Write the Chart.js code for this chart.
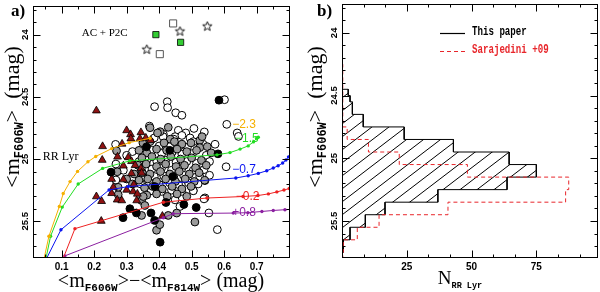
<!DOCTYPE html>
<html>
<head>
<meta charset="utf-8">
<script src="https://cdn.jsdelivr.net/npm/chart.js@4.4.1/dist/chart.umd.min.js"></script>
<style>
  html, body { margin: 0; padding: 0; background: #fff; }
  #wrap { position: relative; width: 600px; height: 292px; }
  canvas { position: absolute; top: 0; }
  #cmd { left: 0; }
  #hist { left: 300px; }
</style>
</head>
<body>
<div id="wrap">
  <canvas id="cmd" width="300" height="292"></canvas>
  <canvas id="hist" width="300" height="292"></canvas>
</div>
<script>
// ---------- panel a) : [colour, mag] ----------
const openCircles = [
  [0.386,24.579],[0.425,24.539],[0.426,24.587],[0.451,24.628],[0.470,24.648],
  [0.370,24.735],[0.459,24.769],[0.507,24.754],[0.539,24.782],[0.601,24.523],
  [0.608,24.721],[0.640,24.790],[0.644,24.818],[0.572,24.881],[0.413,24.801],
  [0.449,24.820],[0.266,24.882],[0.267,25.040],[0.267,25.168],[0.606,25.062],
  [0.541,25.312],[0.553,25.433],[0.579,25.567],[0.449,25.328],[0.538,25.320],
  [0.464,25.381],[0.505,25.253],[0.318,24.940],[0.482,24.790],
  [0.541,25.173],[0.525,25.094],[0.300,24.970],[0.290,25.090],
  [0.385,24.83],[0.412,24.82],[0.445,24.84],[0.470,24.81],[0.495,24.83],[0.505,24.86],
  [0.360,24.89],[0.400,24.895],[0.432,24.90],[0.462,24.895],[0.487,24.905],[0.535,24.88],
  [0.350,24.95],[0.377,24.93],[0.408,24.955],[0.440,24.945],[0.470,24.96],[0.503,24.955],[0.545,24.97],
  [0.338,25.02],[0.362,25.01],[0.393,25.02],[0.420,25.01],[0.452,25.025],[0.485,25.02],[0.515,25.035],[0.555,25.02],
  [0.345,25.08],[0.378,25.08],[0.407,25.075],[0.438,25.09],[0.470,25.075],[0.505,25.09],[0.538,25.085],
  [0.352,25.14],[0.385,25.14],[0.414,25.135],[0.445,25.145],[0.475,25.13],[0.525,25.14],[0.555,25.13],
  [0.343,25.20],[0.370,25.19],[0.400,25.205],[0.432,25.19],[0.460,25.205],[0.490,25.19],[0.520,25.20],
  [0.375,25.255],[0.408,25.26],[0.438,25.25],[0.470,25.26],[0.505,25.255]
];
const grayCircles = [
  [0.403,24.78],[0.428,24.745],[0.434,24.84],[0.395,24.79],[0.525,24.85],[0.532,24.82],
  [0.372,24.748],[0.525,24.908],
  [0.350,24.87],[0.372,24.86],[0.415,24.87],[0.447,24.86],[0.470,24.88],[0.498,24.87],[0.548,24.90],
  [0.338,24.93],[0.362,24.95],[0.392,24.92],[0.423,24.93],[0.455,24.92],[0.485,24.94],[0.515,24.93],[0.560,24.95],
  [0.347,24.99],[0.378,24.98],[0.405,25.00],[0.436,24.98],[0.466,25.00],[0.500,24.99],[0.530,25.01],
  [0.335,25.05],[0.360,25.04],[0.392,25.06],[0.420,25.04],[0.452,25.06],[0.478,25.05],[0.512,25.07],[0.545,25.05],
  [0.348,25.11],[0.372,25.12],[0.404,25.10],[0.433,25.12],[0.462,25.10],[0.493,25.12],[0.523,25.11],
  [0.338,25.17],[0.365,25.16],[0.392,25.18],[0.420,25.16],[0.450,25.18],[0.480,25.16],[0.508,25.18],[0.540,25.17],
  [0.355,25.23],[0.380,25.22],[0.410,25.24],[0.440,25.22],[0.470,25.24],[0.498,25.22],
  [0.362,25.29],[0.392,25.28],[0.425,25.30],[0.455,25.28],[0.485,25.30],
  [0.271,25.102],[0.269,24.934],[0.274,25.285],[0.274,25.227],[0.318,25.20],[0.300,25.16],[0.323,25.12],
  [0.346,25.333],[0.356,25.373],[0.346,25.453],[0.392,25.572],[0.402,25.527],[0.428,25.453],
  [0.454,25.434],[0.510,25.506],[0.351,25.301]
];
const blackCircles = [
  [0.584,24.527],[0.581,24.958],[0.361,24.902],[0.252,25.105],[0.433,24.930],[0.421,25.349],
  [0.476,25.365],[0.514,25.389],[0.310,25.399],[0.330,25.433],[0.375,25.433],[0.289,25.471],
  [0.386,25.493],[0.403,25.668],[0.442,25.141],[0.387,25.221]
];
const rrTriangles = [
  [0.207,24.611],[0.300,24.770],[0.312,24.802],[0.344,24.786],[0.313,24.836],[0.341,24.836],
  [0.359,24.830],[0.226,24.898],[0.286,24.878],[0.272,24.982],[0.225,25.008],[0.305,24.987],
  [0.315,25.018],[0.326,25.050],[0.344,25.075],[0.290,25.054],[0.315,25.115],[0.346,25.112],
  [0.254,25.161],[0.290,25.165],[0.322,25.205],[0.259,25.227],[0.300,25.248],[0.254,25.275],
  [0.320,25.261],[0.333,25.280],[0.207,25.301],[0.223,25.339],[0.271,25.327],[0.285,25.333],
  [0.331,25.333],[0.222,25.498],[0.410,25.458],[0.374,24.849]
];
const openSquares = [[0.443,23.910],[0.402,24.157]];
const greenSquares = [[0.390,24.000],[0.466,24.062]];
const acStars = [[0.362,24.117],[0.464,23.971],[0.548,23.931]];

// ZAHB tracks
const trackOrange = [
  [0.041,25.860],[0.061,25.620],[0.093,25.381],[0.105,25.277],[0.126,25.181],[0.149,25.099],
  [0.181,25.022],[0.205,24.979],[0.254,24.916],[0.308,24.868],[0.372,24.833]
];
const trackGreen = [
  [0.047,25.860],[0.066,25.620],[0.102,25.386],[0.151,25.200],[0.226,25.075],[0.310,25.014],
  [0.578,24.966],[0.618,24.948],[0.649,24.920],[0.674,24.894],
  [0.690,24.862],[0.700,24.833],[0.705,24.825]
];
const trackBlue = [
  [0.042,25.860],[0.098,25.568],[0.246,25.248],[0.305,25.221],
  [0.636,25.152],[0.674,25.134],[0.705,25.115],[0.731,25.094],[0.751,25.072],[0.766,25.054],
  [0.780,25.032],[0.790,25.008],[0.798,24.982],[0.809,24.934]
];
const trackRed = [
  [0.093,25.876],[0.141,25.559],[0.413,25.347],[0.547,25.313],[0.658,25.301],[0.704,25.293],
  [0.736,25.280],[0.762,25.264],[0.784,25.249],[0.800,25.237],[0.812,25.229]
];
const trackPurple = [
  [0.110,25.778],[0.413,25.471],[0.443,25.439],[0.628,25.434],[0.673,25.431],[0.716,25.421],
  [0.751,25.413],[0.787,25.407],[0.812,25.403]
];
const trackLabels = ['\u22122.3', '\u22121.5', '\u22120.7', '\u22120.2', '+0.8'];
const trackLabelPos = [[0.661,24.727],[0.670,24.838],[0.661,25.088],[0.672,25.301],[0.661,25.431]];
const trackColors = ['#f5b000', '#22dd22', '#0a14f0', '#ee2222', '#8b1fa0'];

// ---------- panel b) : histograms ----------
const blackEdges = [24.45,24.5,24.55,24.65,24.75,24.85,24.95,25.05,25.15,25.25,25.35,25.45,25.55,25.65,25.75];
const blackCounts = [2.4,3.1,4,8.2,24,43,64.5,75,63.7,37,16.6,9,3.1,0.5];
const redEdges = [24.25,24.35,24.45,24.55,24.65,24.75,24.85,24.95,25.05,25.15,25.25,25.35,25.45,25.55,25.65,25.75,25.85];
const redCounts = [0.3,0.3,0.3,0.3,0.3,2,10.2,22.1,48.4,87.5,86.3,40.9,14.3,5.9,0.5,0.3];

// ticks
const magTicks = [24, 24.5, 25, 25.5];
const colourTicks = [0.1, 0.2, 0.3, 0.4, 0.5, 0.6, 0.7];
const countTicks = [25, 50, 75];
const magMinor = [];
for (let k = 238; k <= 257; k++) magMinor.push(k / 10);
const colourMinor = [];
for (let k = 1; k <= 16; k++) colourMinor.push(k * 0.05);
const countMinor = [];
for (let k = 1; k <= 11; k++) countMinor.push(k * 25 / 3);

const SERIF = "'Liberation Serif', 'DejaVu Serif', serif";
const MONO = "'Liberation Mono', 'DejaVu Sans Mono', monospace";
const SANS = "'Liberation Sans', Arial, sans-serif";

function richText(ctx, parts, x, y, rot) {
  ctx.save();
  ctx.translate(x, y);
  if (rot) ctx.rotate(rot);
  let w = 0;
  for (const p of parts) { ctx.font = p.font; w += ctx.measureText(p.text).width; }
  let cx = -w / 2;
  ctx.textAlign = 'left';
  ctx.textBaseline = 'alphabetic';
  ctx.fillStyle = '#000';
  for (const p of parts) {
    ctx.font = p.font;
    ctx.fillText(p.text, cx, p.dy || 0);
    cx += ctx.measureText(p.text).width;
  }
  ctx.restore();
}

function magTitle(sub) {
  return [
    {text: '<m', font: '22px ' + SERIF},
    {text: sub, font: 'bold 12px ' + MONO, dy: 4},
    {text: '>  (mag)', font: '22px ' + SERIF}
  ];
}

// axes frame with inward ticks on all four sides
function makeFrame(cfg) {
  return {
    id: 'frame',
    afterDraw(chart) {
      const {ctx, chartArea: a, scales: {x, y}} = chart;
      ctx.save();
      ctx.strokeStyle = '#000';
      ctx.lineWidth = 1;
      ctx.strokeRect(a.left + 0.5, a.top + 0.5, a.right - a.left - 1, a.bottom - a.top - 1);
      ctx.beginPath();
      const xt = (vals, len) => vals.forEach(v => {
        if (v <= x.min || v >= x.max) return;
        const p = Math.round(x.getPixelForValue(v)) + 0.5;
        ctx.moveTo(p, a.bottom); ctx.lineTo(p, a.bottom - len);
        ctx.moveTo(p, a.top); ctx.lineTo(p, a.top + len);
      });
      const yt = (vals, len) => vals.forEach(v => {
        if (v <= y.min || v >= y.max) return;
        const p = Math.round(y.getPixelForValue(v)) + 0.5;
        ctx.moveTo(a.left, p); ctx.lineTo(a.left + len, p);
        ctx.moveTo(a.right, p); ctx.lineTo(a.right - len, p);
      });
      xt(cfg.xMinor, 3.5); xt(cfg.xMajor, 7.5);
      yt(magMinor, 3.5); yt(magTicks, 7.5);
      ctx.stroke();

      ctx.fillStyle = '#000';
      ctx.font = 'bold 10px ' + SANS;
      ctx.textAlign = 'center';
      ctx.textBaseline = 'middle';
      cfg.xMajor.forEach(v => ctx.fillText(cfg.xFmt(v), x.getPixelForValue(v), 267));
      ctx.font = 'bold 9.5px ' + SANS;
      magTicks.forEach(v => {
        ctx.save();
        ctx.translate(a.left - 8, y.getPixelForValue(v));
        ctx.rotate(-Math.PI / 2);
        ctx.fillText(String(v), 0, 0);
        ctx.restore();
      });

      ctx.font = 'bold 17px ' + SERIF;
      ctx.textAlign = 'left';
      ctx.textBaseline = 'alphabetic';
      ctx.fillText(cfg.panel, cfg.panelX, 16);

      richText(ctx, cfg.xTitle, cfg.xTitlePos[0], cfg.xTitlePos[1]);
      richText(ctx, magTitle('F606W'), cfg.yTitleX, 117, -Math.PI / 2);
      if (cfg.extra) cfg.extra(chart);
      ctx.restore();
    }
  };
}

function starImage() {
  const c = document.createElement('canvas');
  c.width = 13; c.height = 13;
  const g = c.getContext('2d');
  g.beginPath();
  for (let i = 0; i < 10; i++) {
    const r = i % 2 ? 2.1 : 4.9;
    const ang = -Math.PI / 2 + i * Math.PI / 5;
    const px = 6.5 + r * Math.cos(ang), py = 6.9 + r * Math.sin(ang);
    if (i) g.lineTo(px, py); else g.moveTo(px, py);
  }
  g.closePath();
  g.fillStyle = '#fff'; g.fill();
  g.lineWidth = 0.9; g.strokeStyle = '#000'; g.stroke();
  return c;
}

function track(data, color) {
  return {
    data, showLine: true, borderColor: color, borderWidth: 1,
    pointRadius: 1.7, pointBackgroundColor: color, pointBorderWidth: 0,
    clip: 0, order: 0
  };
}

function circles(data, fill, order) {
  return {
    data, pointStyle: 'circle', pointRadius: 3.9, backgroundColor: fill,
    borderColor: '#000', borderWidth: 1, order
  };
}

// ---------- panel a) ----------
new Chart(document.getElementById('cmd'), {
  type: 'scatter',
  data: {
    datasets: [
      track(trackOrange, trackColors[0]),
      track(trackGreen, trackColors[1]),
      track(trackBlue, trackColors[2]),
      track(trackRed, trackColors[3]),
      track(trackPurple, trackColors[4]),
      circles(blackCircles, '#000', 1),
      {data: rrTriangles, pointStyle: 'triangle', pointRadius: 4.5, backgroundColor: '#8e1212',
       borderColor: '#000', borderWidth: 0.8, order: 2},
      circles(grayCircles, '#9b9b9b', 3),
      circles(openCircles, '#fff', 4),
      {data: openSquares, pointStyle: 'rect', pointRadius: 5, backgroundColor: '#fff',
       borderColor: '#555', borderWidth: 1, order: 1},
      {data: greenSquares, pointStyle: 'rect', pointRadius: 4.4, backgroundColor: '#33cc33',
       borderColor: '#000', borderWidth: 0.8, order: 1},
      {data: acStars, pointStyle: starImage(), order: 1}
    ]
  },
  options: {
    responsive: false,
    animation: false,
    devicePixelRatio: 1,
    layout: {padding: {left: 33, right: 10, top: 4, bottom: 34}},
    scales: {
      x: {type: 'linear', min: 0.012, max: 0.8025, display: false},
      y: {type: 'linear', min: 23.77, max: 25.795, reverse: true, display: false}
    },
    plugins: {legend: {display: false}, tooltip: {enabled: false}}
  },
  plugins: [makeFrame({
    xMajor: colourTicks, xMinor: colourMinor, xFmt: v => v.toFixed(1),
    panel: 'a)', panelX: 11,
    xTitle: [
      {text: '<m', font: '20px ' + SERIF},
      {text: 'F606W', font: 'bold 11px ' + MONO, dy: 4},
      {text: '>\u2212<m', font: '20px ' + SERIF},
      {text: 'F814W', font: 'bold 11px ' + MONO, dy: 4},
      {text: '> (mag)', font: '20px ' + SERIF}
    ],
    xTitlePos: [161, 286.5],
    yTitleX: 18.5,
    extra(chart) {
      const {ctx, scales: {x, y}} = chart;
      ctx.font = '12px ' + SANS;
      ctx.textAlign = 'center';
      ctx.textBaseline = 'middle';
      trackLabels.forEach((t, i) => {
        ctx.fillStyle = trackColors[i];
        ctx.fillText(t, x.getPixelForValue(trackLabelPos[i][0]), y.getPixelForValue(trackLabelPos[i][1]));
      });
      ctx.fillStyle = '#000';
      ctx.textAlign = 'left';
      ctx.font = '12px ' + SERIF;
      ctx.fillText('RR Lyr', x.getPixelForValue(0.042), y.getPixelForValue(24.982));
      ctx.font = '11px ' + SERIF;
      ctx.fillText('AC + P2C', x.getPixelForValue(0.162), y.getPixelForValue(23.984));
    }
  })]
});

// ---------- panel b) ----------
function steps(edges, counts) {
  const pts = [{x: 0, y: edges[0]}];
  counts.forEach((n, i) => {
    pts.push({x: n, y: edges[i]});
    pts.push({x: n, y: edges[i + 1]});
  });
  pts.push({x: 0, y: edges[edges.length - 1]});
  return pts;
}

const histCanvas = document.getElementById('hist');
const tile = document.createElement('canvas');
tile.width = 17; tile.height = 13;
const tg = tile.getContext('2d');
tg.strokeStyle = '#000';
tg.lineWidth = 1;
tg.beginPath();
[-13, 0, 13].forEach(off => { tg.moveTo(-17, 26 + off); tg.lineTo(34, -13 + off); });
tg.stroke();
const hatch = histCanvas.getContext('2d').createPattern(tile, 'repeat');

new Chart(histCanvas, {
  type: 'line',
  data: {
    datasets: [
      {data: steps(redEdges, redCounts), borderColor: '#e8262b', borderWidth: 1, borderDash: [4, 3],
       pointRadius: 0, fill: false, tension: 0, order: 0},
      {data: steps(blackEdges, blackCounts), borderColor: '#000', borderWidth: 1,
       pointRadius: 0, fill: 'shape', backgroundColor: hatch, tension: 0, order: 1}
    ]
  },
  options: {
    responsive: false,
    animation: false,
    devicePixelRatio: 1,
    layout: {padding: {left: 42, right: 2, top: 4, bottom: 34}},
    scales: {
      x: {type: 'linear', min: 0, max: 98.8, display: false},
      y: {type: 'linear', min: 23.77, max: 25.795, reverse: true, display: false}
    },
    plugins: {legend: {display: false}, tooltip: {enabled: false}}
  },
  plugins: [makeFrame({
    xMajor: countTicks, xMinor: countMinor, xFmt: v => String(v),
    panel: 'b)', panelX: 17,
    xTitle: [
      {text: 'N', font: '19px ' + SERIF},
      {text: 'RR Lyr', font: 'bold 8.5px ' + MONO, dy: 4}
    ],
    xTitlePos: [160, 283.5],
    yTitleX: 21.5,
    extra(chart) {
      const {ctx} = chart;
      ctx.lineWidth = 1.2;
      ctx.strokeStyle = '#000';
      ctx.beginPath(); ctx.moveTo(140, 33.5); ctx.lineTo(165, 33.5); ctx.stroke();
      ctx.strokeStyle = '#e8262b';
      ctx.setLineDash([4, 3]);
      ctx.beginPath(); ctx.moveTo(140, 51.5); ctx.lineTo(165, 51.5); ctx.stroke();
      ctx.setLineDash([]);
      ctx.textAlign = 'left';
      ctx.textBaseline = 'middle';
      ctx.font = 'bold 12.5px ' + MONO;
      ctx.save(); ctx.translate(172, 31.5); ctx.scale(0.73, 1);
      ctx.fillStyle = '#000'; ctx.fillText('This paper', 0, 0);
      ctx.restore();
      ctx.save(); ctx.translate(172, 50); ctx.scale(0.73, 1);
      ctx.fillStyle = '#e8262b'; ctx.fillText('Sarajedini +09', 0, 0);
      ctx.restore();
    }
  })]
});
</script>
</body>
</html>
